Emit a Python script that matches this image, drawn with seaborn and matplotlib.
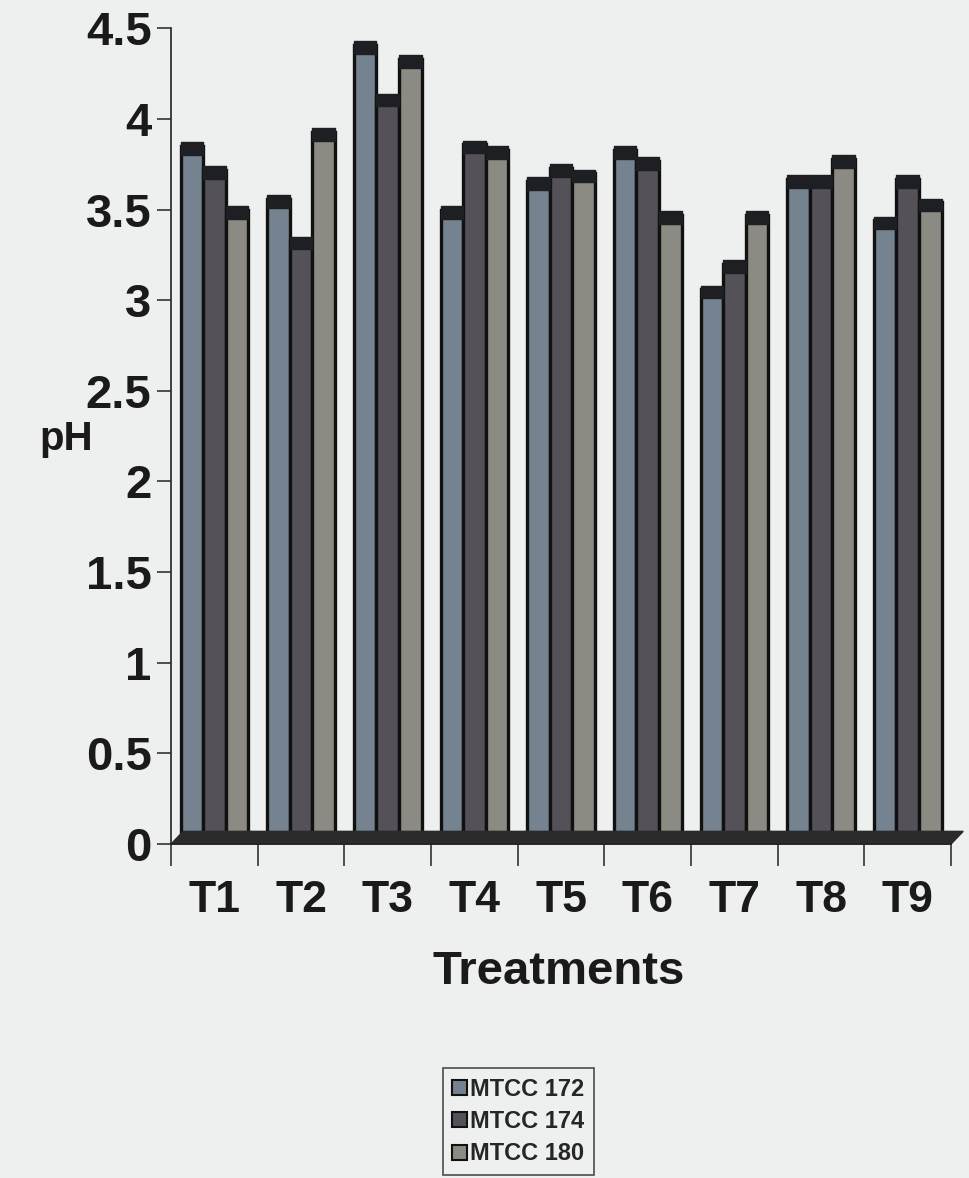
import matplotlib
matplotlib.use("Agg")
import matplotlib.pyplot as plt
from matplotlib.patches import Rectangle
import numpy as np
import pandas as pd
import seaborn as sns

# Data
treatments = ["T1", "T2", "T3", "T4", "T5", "T6", "T7", "T8", "T9"]
strains = ["MTCC 172", "MTCC 174", "MTCC 180"]
ph_172 = [3.85, 3.56, 4.41, 3.50, 3.66, 3.83, 3.06, 3.67, 3.44]
ph_174 = [3.72, 3.33, 4.12, 3.86, 3.73, 3.77, 3.20, 3.67, 3.67]
ph_180 = [3.50, 3.93, 4.33, 3.83, 3.70, 3.47, 3.47, 3.78, 3.54]
y_ticks = [0, 0.5, 1, 1.5, 2, 2.5, 3, 3.5, 4, 4.5]
y_tick_labels = ["0", "0.5", "1", "1.5", "2", "2.5", "3", "3.5", "4", "4.5"]

df = pd.DataFrame({
    "Treatment": treatments * 3,
    "Strain": [s for s in strains for _ in treatments],
    "pH": ph_172 + ph_174 + ph_180,
})

palette = {"MTCC 172": "#74838f", "MTCC 174": "#545159", "MTCC 180": "#8b8a83"}
bg = "#eef0ef"
ink = "#1a1a1a"

sns.set_style("white")
plt.rcParams["font.family"] = ["Liberation Sans", "DejaVu Sans"]
plt.rcParams["font.weight"] = "bold"

fig = plt.figure(figsize=(9.69, 11.78), dpi=100)
fig.patch.set_facecolor(bg)
ax = fig.add_axes([0.1765, 0.2835, 0.805, 0.6925])
ax.set_facecolor(bg)

sns.barplot(data=df, x="Treatment", y="pH", hue="Strain", order=treatments,
            hue_order=strains, palette=palette, width=0.78, saturation=1,
            edgecolor="#111111", linewidth=2.4, ax=ax, legend=False)

# dark cylinder caps on each bar
for p in list(ax.patches):
    x0, w, h = p.get_x(), p.get_width(), p.get_height()
    ax.add_patch(Rectangle((x0, h - 0.05), w, 0.07, facecolor="#1e1f22",
                           edgecolor="#1e1f22", linewidth=1, zorder=3,
                           joinstyle="round"))

# floor band under the bars
ax.fill([-0.5, -0.36, 8.64, 8.5], [0, 0.07, 0.07, 0], color="#2b2b2b",
        transform=ax.transData, zorder=1, clip_on=False)

ax.set_xlim(-0.5, 8.5)
ax.set_ylim(0, 4.5)
ax.set_yticks(y_ticks)
ax.set_yticklabels(y_tick_labels, fontsize=34, fontweight="bold", color=ink)
ax.set_xticks(range(len(treatments)))
ax.set_xticklabels(treatments, fontsize=32, fontweight="bold", color=ink)
ax.set_xticks(np.arange(-0.5, len(treatments), 1.0), minor=True)
ax.tick_params(axis="x", which="major", length=0, pad=26, bottom=True)
ax.tick_params(axis="x", which="minor", length=16, width=1.2, color="#333333",
               direction="out", bottom=True)
ax.tick_params(axis="y", which="major", length=10, width=1.2, color="#333333",
               direction="out", left=True, pad=4)

for side in ["top", "right"]:
    ax.spines[side].set_visible(False)
ax.spines["left"].set_color("#222222")
ax.spines["left"].set_linewidth(1.2)
ax.spines["bottom"].set_color("#222222")
ax.spines["bottom"].set_linewidth(1.2)

ax.set_xlabel("Treatments", fontsize=34, fontweight="bold", color=ink,
              va="center", ha="center")
ax.xaxis.set_label_coords(0.497, -0.157)
ax.set_ylabel("pH", fontsize=29, fontweight="bold", rotation=0,
              color=ink, va="center", ha="center")
ax.yaxis.set_label_coords(-0.134, 0.496)

handles = [Rectangle((0, 0), 1, 1, facecolor=palette[s], edgecolor="#111111",
                     linewidth=1.5) for s in strains]
leg = fig.legend(handles, strains, loc="center", bbox_to_anchor=(0.535, 0.048),
                 frameon=True, fancybox=False, edgecolor="#222222",
                 prop={"size": 17, "weight": "bold"}, handlelength=0.6,
                 handleheight=0.6, handletextpad=0.15, labelspacing=0.4,
                 borderpad=0.4, borderaxespad=0)
leg.get_frame().set_linewidth(1.2)
leg.get_frame().set_facecolor(bg)

fig.savefig("out.png", dpi=100, facecolor=fig.get_facecolor())
